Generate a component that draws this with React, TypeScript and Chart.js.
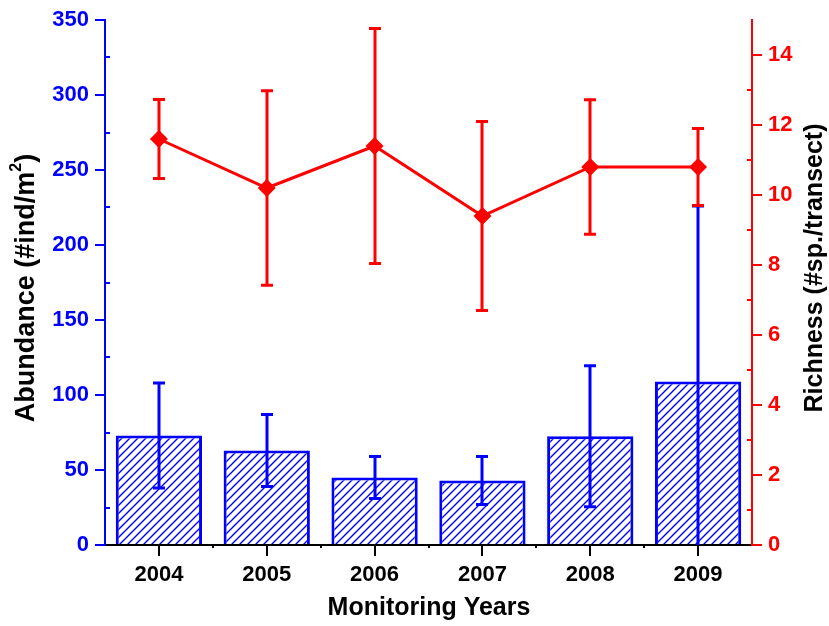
import React, { useEffect, useRef } from "react";
import { Chart, registerables } from "chart.js";

Chart.register(...registerables);

const years = ["2004", "2005", "2006", "2007", "2008", "2009"];
const abundance = [73, 63, 45, 43, 72.5, 109];
const abundanceErr = [35, 24, 14, 16, 47, 117];
const richness = [11.6, 10.2, 11.4, 9.4, 10.8, 10.8];
const richnessErr = [1.13, 2.78, 3.36, 2.7, 1.92, 1.1];
const leftTicksStep = 50;
const leftMax = 350;
const rightTicksStep = 2;
const rightMax = 15;

const FONT = "'Liberation Sans', Arial, Helvetica, sans-serif";
const BLUE = "#0000ff";
const RED = "#ff0000";

function makeHatch(): CanvasPattern | string {
  const c = document.createElement("canvas");
  const n = 8;
  c.width = n;
  c.height = n;
  const g = c.getContext("2d");
  if (!g) return "#fff";
  g.fillStyle = "#ffffff";
  g.fillRect(0, 0, n, n);
  g.strokeStyle = BLUE;
  g.lineWidth = 1.4;
  g.beginPath();
  for (let k = -1; k <= 1; k++) {
    g.moveTo(k * n - 1, n + 1);
    g.lineTo(k * n + n + 1, -1);
  }
  g.stroke();
  const p = g.createPattern(c, "repeat");
  return p || "#fff";
}

function drawErrors(chart: any, dsIndex: number, values: number[], errs: number[], axisId: string, color: string) {
  const ctx = chart.ctx;
  const meta = chart.getDatasetMeta(dsIndex);
  const ys = chart.scales[axisId];
  const cap = 6;
  ctx.save();
  ctx.strokeStyle = color;
  ctx.lineWidth = 3;
  meta.data.forEach((el: any, i: number) => {
    const x = Math.round(el.x);
    const hiV = values[i] + errs[i];
    let loV = values[i] - errs[i];
    const clipped = loV < ys.min;
    if (clipped) loV = ys.min;
    const yHi = ys.getPixelForValue(hiV);
    const yLo = ys.getPixelForValue(loV);
    ctx.beginPath();
    ctx.moveTo(x, yHi);
    ctx.lineTo(x, yLo);
    ctx.moveTo(x - cap, yHi);
    ctx.lineTo(x + cap, yHi);
    if (!clipped) {
      ctx.moveTo(x - cap, yLo);
      ctx.lineTo(x + cap, yLo);
    }
    ctx.stroke();
  });
  ctx.restore();
}

const decorPlugin = {
  id: "decor",
  afterDatasetDraw(chart: any, args: any) {
    if (args.index === 0) drawErrors(chart, 0, abundance, abundanceErr, "y", BLUE);
    if (args.index === 1) drawErrors(chart, 1, richness, richnessErr, "y1", RED);
  },
  afterDraw(chart: any) {
    const ctx = chart.ctx;
    const area = chart.chartArea;
    const yL = chart.scales.y;
    const yR = chart.scales.y1;
    ctx.save();
    ctx.lineWidth = 2;
    ctx.strokeStyle = BLUE;
    ctx.beginPath();
    for (let v = leftTicksStep / 2; v < leftMax; v += leftTicksStep) {
      const y = Math.round(yL.getPixelForValue(v));
      ctx.moveTo(area.left, y);
      ctx.lineTo(area.left + 5, y);
    }
    ctx.stroke();
    ctx.strokeStyle = RED;
    ctx.beginPath();
    for (let v = rightTicksStep / 2; v < rightMax - 0.5; v += rightTicksStep) {
      const y = Math.round(yR.getPixelForValue(v));
      ctx.moveTo(area.right, y);
      ctx.lineTo(area.right - 5, y);
    }
    ctx.stroke();
    ctx.strokeStyle = "#000";
    ctx.beginPath();
    const step = (area.right - area.left) / years.length;
    for (let k = 1; k < years.length; k++) {
      const x = Math.round(area.left + k * step);
      ctx.moveTo(x, area.bottom);
      ctx.lineTo(x, area.bottom + 3);
    }
    ctx.stroke();

    ctx.fillStyle = "#000";
    ctx.textBaseline = "middle";
    ctx.font = `bold 25px ${FONT}`;
    ctx.textAlign = "center";
    ctx.fillText("Monitoring Years", 429, 608);

    const main1 = "Abundance (#ind/m";
    const sup = "2";
    const end = ")";
    const big = `bold 27px ${FONT}`;
    const small = `bold 16px ${FONT}`;
    ctx.font = big;
    const w1 = ctx.measureText(main1).width;
    const w3 = ctx.measureText(end).width;
    ctx.font = small;
    const w2 = ctx.measureText(sup).width;
    const total = w1 + w2 + w3;
    ctx.save();
    ctx.translate(27, 288);
    ctx.rotate(-Math.PI / 2);
    ctx.textAlign = "left";
    let xx = -total / 2;
    ctx.font = big;
    ctx.fillText(main1, xx, 0);
    xx += w1;
    ctx.font = small;
    ctx.fillText(sup, xx, -10);
    xx += w2;
    ctx.font = big;
    ctx.fillText(end, xx, 0);
    ctx.restore();

    ctx.save();
    ctx.translate(815, 268);
    ctx.rotate(-Math.PI / 2);
    ctx.textAlign = "center";
    ctx.font = `bold 25px ${FONT}`;
    ctx.fillText("Richness (#sp./transect)", 0, 0);
    ctx.restore();
    ctx.restore();
  },
};

export default function App() {
  const ref = useRef<HTMLCanvasElement | null>(null);
  useEffect(() => {
    if (!ref.current) return;
    const hatch = makeHatch();
    const tickFont = { family: FONT, size: 22, weight: "bold" as const };
    const chart = new Chart(ref.current, {
      data: {
        labels: years,
        datasets: [
          {
            type: "bar",
            label: "Abundance",
            data: abundance,
            yAxisID: "y",
            backgroundColor: hatch as any,
            borderColor: BLUE,
            borderWidth: 3,
            categoryPercentage: 0.8,
            barPercentage: 1,
            order: 2,
          },
          {
            type: "line",
            label: "Richness",
            data: richness,
            yAxisID: "y1",
            borderColor: RED,
            borderWidth: 3,
            pointStyle: "rectRot",
            pointRadius: 9,
            pointBackgroundColor: RED,
            pointBorderColor: RED,
            pointBorderWidth: 0,
            tension: 0,
            order: 1,
          },
        ],
      } as any,
      options: {
        animation: false,
        responsive: false,
        devicePixelRatio: 1,
        layout: { padding: { top: 20, left: 0, right: 0, bottom: 0 } },
        plugins: { legend: { display: false }, tooltip: { enabled: false } },
        scales: {
          x: {
            type: "category",
            offset: true,
            grid: { display: true, offset: false, drawOnChartArea: false, drawTicks: true, tickLength: 11, color: "#000", lineWidth: 2 },
            border: { display: true, color: "#000", width: 2 },
            ticks: { color: "#000", font: tickFont, padding: 6, maxRotation: 0 },
            afterFit: (s: any) => { s.height = 81; },
          },
          y: {
            type: "linear",
            position: "left",
            min: 0,
            max: leftMax,
            grid: { display: true, drawOnChartArea: false, drawTicks: true, tickLength: 10, color: BLUE, lineWidth: 2 },
            border: { display: true, color: BLUE, width: 2 },
            ticks: { stepSize: leftTicksStep, color: BLUE, font: tickFont, padding: 6, includeBounds: false },
            afterFit: (s: any) => { s.width = 105; },
          },
          y1: {
            type: "linear",
            position: "right",
            min: 0,
            max: rightMax,
            grid: { display: true, drawOnChartArea: false, drawTicks: true, tickLength: 10, color: RED, lineWidth: 2 },
            border: { display: true, color: RED, width: 2 },
            ticks: { stepSize: rightTicksStep, color: RED, font: tickFont, padding: 6, includeBounds: false },
            afterFit: (s: any) => { s.width = 77; },
          },
        },
      } as any,
      plugins: [decorPlugin],
    });
    return () => chart.destroy();
  }, []);
  return (
    <div style={{ position: "fixed", left: 0, top: 0, width: 829, height: 626, background: "#fff" }}>
      <canvas ref={ref} width={829} height={626} style={{ display: "block" }} />
    </div>
  );
}
